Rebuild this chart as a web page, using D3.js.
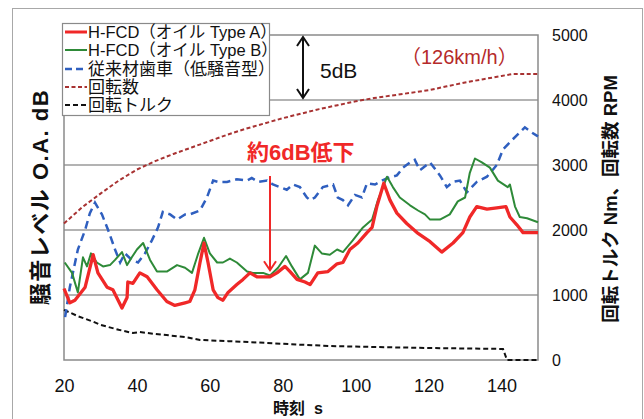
<!DOCTYPE html>
<html><head><meta charset="utf-8">
<script src="https://cdn.jsdelivr.net/npm/d3@7"></script>
<style>
html,body{margin:0;padding:0;background:#fff;}
svg text{font-family:"Liberation Sans","Noto Sans CJK JP",Arial,sans-serif;}
</style></head>
<body><svg id="c" width="644" height="419"></svg>
<script>
// ---- data ----
const timeTicks = [20, 40, 60, 80, 100, 120, 140];
const rightTicks = [0, 1000, 2000, 3000, 4000, 5000];
const dbGrid = [65, 70, 75, 80];
const legendLabels = ["H-FCD（オイル Type A）", "H-FCD（オイル Type B）", "従来材歯車（低騒音型）", "回転数", "回転トルク"];

// noise level, dB (relative; grid = 5 dB)
const typeA = [[20,65.5],[21.6,64.4],[23,64.6],[25.8,65.6],[28,68.1],[29.3,66.7],[31.8,65.6],[33.4,65.4],[35.9,64.0],[37.3,64.8],[37.5,66.0],[38.9,65.9],[40.8,66.7],[42.8,66.4],[45.5,65.4],[48.2,64.5],[50.4,64.2],[53.2,64.4],[54.5,64.5],[55.9,65.4],[57.3,67.5],[58.4,69.0],[59.5,67.5],[60.9,65.4],[62.2,64.8],[63.6,64.6],[65,65.2],[67.4,65.8],[69.1,66.2],[71,66.7],[72.9,66.4],[74.6,66.4],[76.5,66.4],[78.4,66.7],[80.6,67.2],[82,66.8],[83.9,66.2],[86.1,66.0],[87.5,65.8],[89.6,66.7],[92.4,66.8],[94.9,67.4],[96.5,67.5],[98.4,68.5],[100.6,69.0],[103.1,69.8],[104.5,70.2],[105.8,71.8],[107.7,73.6],[109.4,72.3],[111.3,71.3],[114,70.5],[116.8,69.8],[120.4,69.1],[123.6,68.3],[126.7,69.0],[129.4,69.8],[131.3,71.0],[133.2,71.8],[136,71.6],[138.7,71.7],[141.2,71.8],[142.3,71.0],[144.2,70.4],[145.9,69.8],[150,69.8]];
const typeB = [[20.2,67.5],[22.2,66.7],[23.8,65.2],[25.2,67.9],[26.3,67.2],[27.4,68.2],[29,67.5],[30.7,67.2],[32.6,67.3],[34,67.7],[35.9,68.3],[37.3,67.3],[38.6,67.9],[40,68.5],[41.7,69.0],[43.6,67.7],[45.5,66.8],[48.2,66.8],[51,67.3],[53.2,67.1],[55.1,66.7],[56.7,68.1],[58.4,69.4],[60,68.2],[62,67.5],[63.6,67.5],[65.5,67.8],[67.4,67.5],[70.2,66.8],[71.8,66.7],[74.6,66.7],[76.5,66.5],[78.7,67.1],[80.9,68.0],[82.5,67.2],[84.7,66.2],[86.9,66.7],[88.8,68.8],[90.7,68.2],[92.9,68.1],[94.9,68.5],[96.5,68.3],[99.2,69.2],[102,70.2],[104.5,70.8],[106.1,72.3],[108.6,74.1],[110.2,73.3],[112.1,72.5],[114.9,71.9],[117.1,71.5],[119,71.2],[120.4,70.8],[123.1,70.8],[125.8,71.2],[128,72.2],[130,72.5],[131.3,74.4],[132.7,75.5],[134.6,75.2],[136.8,74.8],[139,73.8],[141.7,73.3],[142.3,73.5],[143.7,71.8],[145,71.0],[147,70.9],[150,70.6]];
const conventional = [[20.3,63.3],[21.6,65.6],[23.8,68.5],[25.8,70.0],[27.1,71.3],[28.5,72.1],[30.4,71.2],[32.1,70.0],[34,68.5],[35.4,67.5],[36.7,68.2],[38.6,67.7],[40.3,67.5],[42.2,68.2],[44.1,69.2],[45.8,70.2],[47.1,71.4],[49.1,71.2],[51,70.8],[53.2,71.2],[54.5,71.2],[57.3,71.5],[59.2,72.5],[60.9,73.8],[62.2,73.7],[64.7,73.7],[67.4,73.9],[70.2,73.8],[71.5,74.0],[73.2,73.7],[75.7,73.8],[77.3,73.5],[79.2,73.3],[81.1,73.1],[82.8,73.5],[84.7,73.3],[86.6,72.5],[87.5,72.3],[88.8,72.5],[91,73.3],[93.8,73.5],[95.1,72.5],[96.5,72.3],[97.9,71.9],[99.8,72.7],[101.7,72.5],[103.1,73.6],[105.3,73.5],[107.2,73.8],[108.8,74.0],[111.3,74.2],[113,74.8],[114.9,75.2],[116.2,75.4],[117.6,74.6],[120.4,75.2],[123.1,74.2],[125,73.3],[126.7,73.7],[128.6,73.8],[130.5,72.9],[133.2,73.7],[136,74.1],[138.7,75.0],[140.4,76.2],[142.8,76.9],[145,77.5],[146.4,77.9],[148.3,77.5],[150,77.2]];
// rpm and torque (right axis)
const rpm = [[20,2100],[25,2350],[30,2560],[35,2760],[40,2930],[45,3060],[50,3170],[55,3270],[60,3370],[65,3470],[70,3560],[75,3640],[80,3720],[85,3790],[90,3860],[95,3920],[100,3980],[105,4030],[110,4070],[115,4110],[120,4150],[125,4210],[130,4270],[135,4320],[140,4370],[143,4400],[150,4400]];
const torque = [[20,770],[24,670],[28,590],[30,540],[35,465],[38.9,415],[40.8,430],[45,400],[53.2,354],[57.3,308],[65,290],[75.7,262],[85,235],[92.9,215],[105,200],[120,185],[140.4,170],[141.5,0],[150,0]];

// ---- layout ----
const svg = d3.select("#c");
const L = 64, R = 538, T = 35, B = 360;
const x = d3.scaleLinear().domain([20, 150]).range([L, R]);
const yDb = d3.scaleLinear().domain([60, 85]).range([B, T]);
const yR = d3.scaleLinear().domain([0, 5000]).range([B, T]);

// outer frame
svg.append("rect").attr("x", 12.5).attr("y", 8.5).attr("width", 630).attr("height", 430)
  .attr("fill", "none").attr("stroke", "#a8a8a8").attr("stroke-width", 1);

// grid
svg.append("g").selectAll("line").data(dbGrid).join("line")
  .attr("x1", L).attr("x2", R).attr("y1", d => yDb(d)).attr("y2", d => yDb(d))
  .attr("stroke", "#9a9a9a").attr("stroke-width", 1.5);
svg.append("rect").attr("x", L).attr("y", T).attr("width", R - L).attr("height", B - T)
  .attr("fill", "none").attr("stroke", "#8a8a8a").attr("stroke-width", 1.5);

// axes
const xAxis = svg.append("g").attr("transform", `translate(0,${B})`)
  .call(d3.axisBottom(x).tickValues(timeTicks).tickSize(0).tickPadding(19));
xAxis.select(".domain").remove();
xAxis.selectAll("text").attr("font-size", 18).attr("fill", "#111")
  .style("font-family", "'Liberation Sans',Arial,sans-serif");

const rAxis = svg.append("g").attr("transform", `translate(${R},0)`)
  .call(d3.axisRight(yR).tickValues(rightTicks).tickSize(0).tickPadding(14).tickFormat(d3.format("d")));
rAxis.select(".domain").remove();
rAxis.selectAll("text").attr("font-size", 16).attr("fill", "#111")
  .style("font-family", "'Liberation Sans',Arial,sans-serif");

// series
const lineDb = d3.line().x(d => x(d[0])).y(d => yDb(d[1]));
const lineR = d3.line().x(d => x(d[0])).y(d => yR(d[1]));
const plot = svg.append("g");
plot.append("path").datum(rpm).attr("d", lineR).attr("fill", "none")
  .attr("stroke", "#a83232").attr("stroke-width", 2).attr("stroke-dasharray", "4,2.5");
plot.append("path").datum(torque).attr("d", lineR).attr("fill", "none")
  .attr("stroke", "#111").attr("stroke-width", 2).attr("stroke-dasharray", "5,3");
plot.append("path").datum(conventional).attr("d", lineDb).attr("fill", "none")
  .attr("stroke", "#2f5fbf").attr("stroke-width", 2.5).attr("stroke-dasharray", "8,5");
plot.append("path").datum(typeB).attr("d", lineDb).attr("fill", "none")
  .attr("stroke", "#2e8a38").attr("stroke-width", 2).attr("stroke-linejoin", "round");
plot.append("path").datum(typeA).attr("d", lineDb).attr("fill", "none")
  .attr("stroke", "#f02828").attr("stroke-width", 3.3).attr("stroke-linejoin", "round");

// axis titles
svg.append("text").attr("transform", "translate(40,197) rotate(-90)")
  .attr("text-anchor", "middle").attr("dominant-baseline", "central")
  .attr("font-size", 22).attr("font-weight", "bold").attr("fill", "#111")
  .attr("letter-spacing", 1.5)
  .text("騒音レベル O.A. dB");
svg.append("text").attr("transform", "translate(610,199) rotate(-90)")
  .attr("text-anchor", "middle").attr("dominant-baseline", "central")
  .attr("font-size", 18.5).attr("font-weight", "bold").attr("fill", "#111")
  .text("回転トルク Nm、回転数 RPM");
svg.append("text").attr("x", 298).attr("y", 414).attr("text-anchor", "middle")
  .attr("font-size", 16).attr("font-weight", "bold").attr("fill", "#111")
  .attr("xml:space", "preserve").text("時刻  s");

// annotations
svg.append("text").attr("x", 320).attr("y", 78).attr("font-size", 21).attr("fill", "#111").text("5dB");
svg.append("text").attr("x", 401).attr("y", 64).attr("font-size", 20).attr("fill", "#b52a2a").text("（126km/h）");
svg.append("text").attr("x", 247).attr("y", 160).attr("font-size", 22).attr("font-weight", "bold").attr("fill", "#f02828").text("約6dB低下");

const ax = 303, y1 = yDb(85) + 2, y2 = yDb(80) - 2;
const arr = svg.append("g").attr("stroke", "#111").attr("stroke-width", 2).attr("fill", "none");
arr.append("line").attr("x1", ax).attr("x2", ax).attr("y1", y1).attr("y2", y2);
arr.append("path").attr("d", `M${ax-6},${y1+9}L${ax},${y1}L${ax+6},${y1+9}`);
arr.append("path").attr("d", `M${ax-6},${y2-9}L${ax},${y2}L${ax+6},${y2-9}`);

const rx = x(76.5), ry1 = 176, ry2 = yDb(66.9);
const rar = svg.append("g").attr("stroke", "#f02828").attr("stroke-width", 2).attr("fill", "none");
rar.append("line").attr("x1", rx).attr("x2", rx).attr("y1", ry1).attr("y2", ry2);
rar.append("path").attr("d", `M${rx-6},${ry2-9}L${rx},${ry2}L${rx+6},${ry2-9}`);

// legend
const lg = svg.append("g");
lg.append("rect").attr("x", 62.5).attr("y", 23.5).attr("width", 207).attr("height", 92)
  .attr("fill", "#fff").attr("stroke", "#8a8a8a").attr("stroke-width", 1.2);
const legStyles = [
  {c: "#f02828", w: 3, d: null},
  {c: "#2e8a38", w: 2, d: null},
  {c: "#2f5fbf", w: 2.5, d: "7,4"},
  {c: "#a83232", w: 2, d: "4,2.5"},
  {c: "#111", w: 2, d: "5,3"}
];
const rowY = [32, 50, 69, 87, 105];
legendLabels.forEach((t, i) => {
  const s = legStyles[i];
  const l = lg.append("line").attr("x1", 65).attr("x2", 87).attr("y1", rowY[i]).attr("y2", rowY[i])
    .attr("stroke", s.c).attr("stroke-width", s.w);
  if (s.d) l.attr("stroke-dasharray", s.d);
  lg.append("text").attr("x", 88).attr("y", rowY[i]).attr("dominant-baseline", "central")
    .attr("font-size", i < 2 ? 16.5 : 17).attr("fill", "#111").text(t);
});
</script></body></html>
